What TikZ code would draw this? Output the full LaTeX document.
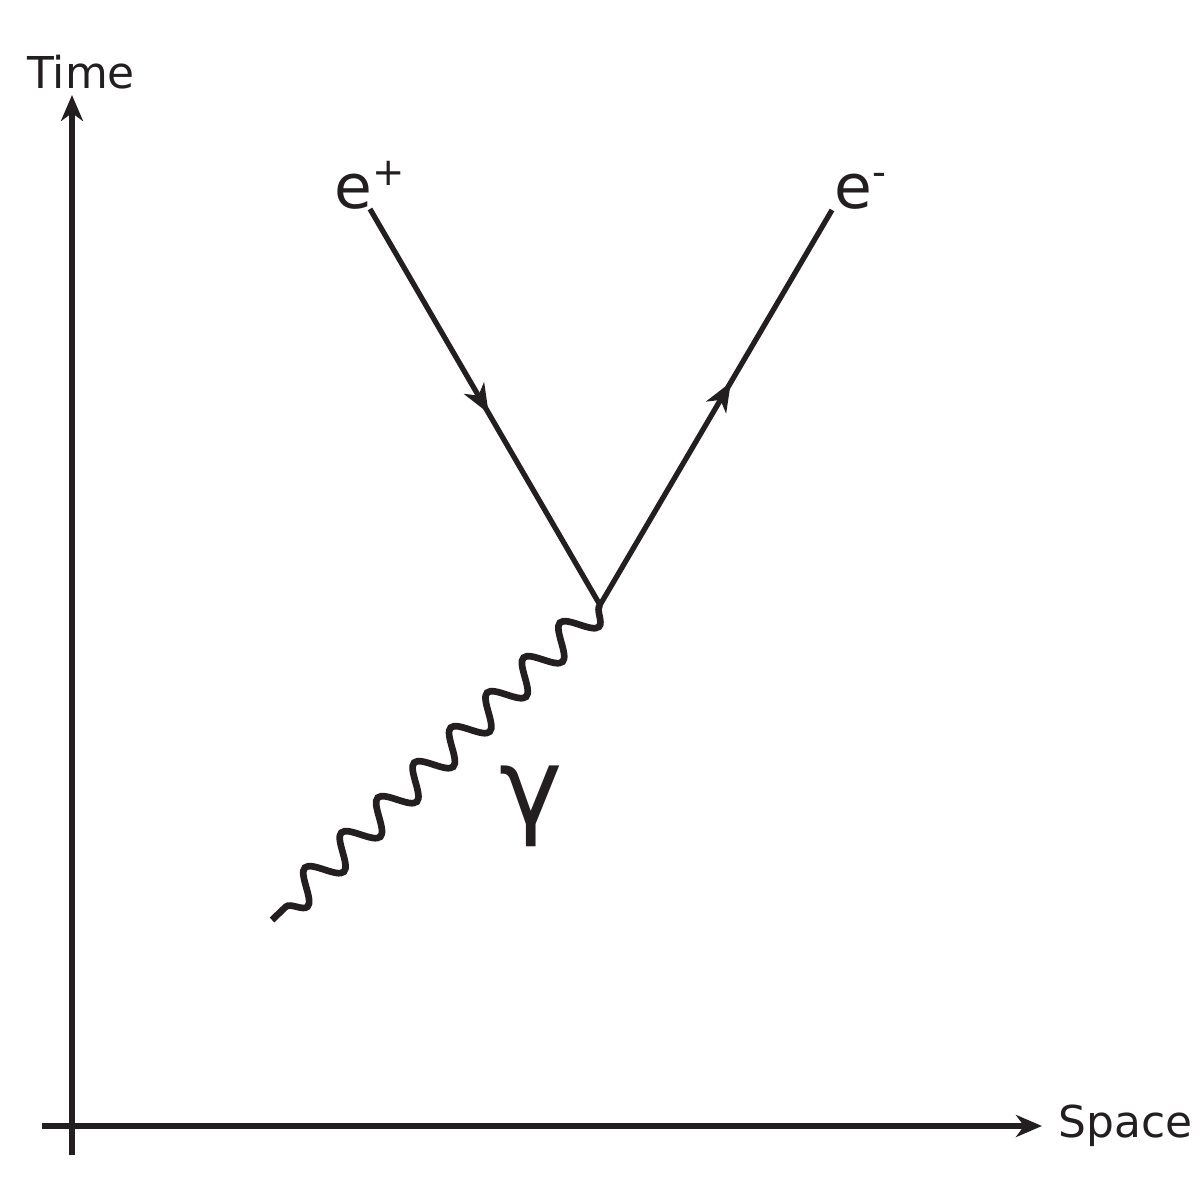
\documentclass[tikz,border=0pt]{standalone}
\usepackage{fontspec}
\setmainfont{DejaVu Sans}
\usetikzlibrary{arrows.meta,decorations.pathmorphing,decorations.markings}
\definecolor{inkdark}{HTML}{231F20}
\newcommand\chargesup[1]{\raisebox{13pt}{\fontsize{22}{22}\selectfont #1}}
\tikzset{
  axis/.style={line width=3pt,-{Stealth[length=0.52cm,width=0.44cm,inset=0.16cm]}},
  fermions/.style={line width=3pt,postaction={decorate},
    decoration={markings,
      mark=at position 0.258 with {\arrow{Stealth[length=0.58cm,width=0.46cm,inset=0.17cm]}},
      mark=at position 0.782 with {\arrow{Stealth[length=0.58cm,width=0.46cm,inset=0.17cm]}}}},
  photon/.style={line width=3.8pt,decorate,
    decoration={snake,segment length=1.0107cm,amplitude=0.3cm}},
  axislabel/.style={inner sep=0pt,font=\fontsize{25}{30}\selectfont},
  particle/.style={inner sep=0pt,font=\fontsize{35}{42}\selectfont},
}

\begin{document}
\begin{tikzpicture}[x=0.02cm,y=-0.02cm,inkdark]
  \useasboundingbox (0,0) rectangle (1200,1200);
  % axes
  \coordinate (tbot) at (72,1155);
  \coordinate (ttop) at (72,95);
  \coordinate (sleft) at (42,1126);
  \coordinate (sright) at (1042,1126);
  \draw[axis] (tbot) -- (ttop);
  \draw[axis] (sleft) -- (sright);
  \node[axislabel,anchor=base west] (time) at (27,88) {Time};
  \node[axislabel,anchor=base west] (space) at (1058,1137) {Space};
  % vertex and lines
  \coordinate (v) at (600,605);
  \coordinate (pend) at (370,209);
  \coordinate (mend) at (832,210);
  \coordinate (gend) at (272,920);
  \draw[fermions] (pend) -- (v) -- (mend);
  \draw[photon] (v) -- (gend);
  % labels
  \node[particle,anchor=base west] (ep) at (334,208) {e\chargesup{+}};
  \node[particle,anchor=base west] (em) at (834,208) {e\chargesup{-}};
  \node[inner sep=0pt,font=\fontsize{61}{70}\selectfont] (gam) at (531,806) {γ};
\end{tikzpicture}
\end{document}
